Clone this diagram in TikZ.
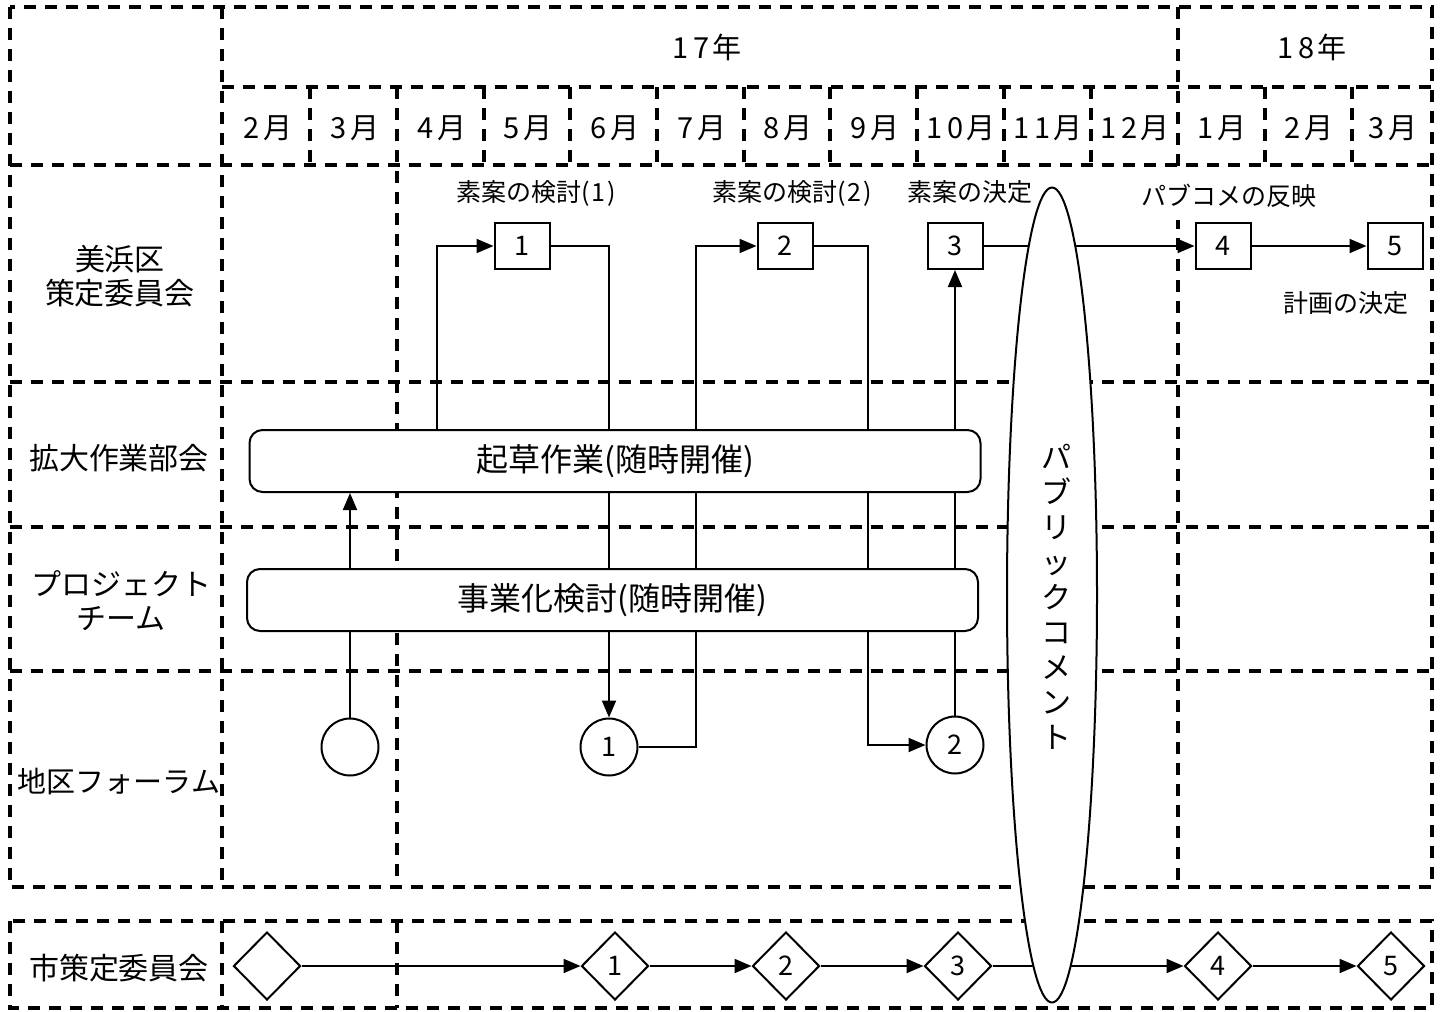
\documentclass[tikz,border=0pt]{standalone}
\usepackage{fontspec}
\setmainfont{Noto Sans CJK JP}
\usetikzlibrary{arrows.meta,shapes.geometric,backgrounds}
\begin{document}
\begin{tikzpicture}[x=1pt,y=-1pt,
  gridline/.style={line width=3.5pt,dash pattern=on 12pt off 9pt},
  arr/.style={line width=2pt,-{Triangle[length=17pt,width=14pt]}},
  lab/.style={font=\fontsize{30}{34}\selectfont,align=center,inner sep=0pt},
  mon/.style={font=\fontsize{29}{34}\selectfont,inner sep=0pt},
  note/.style={font=\fontsize{25}{30}\selectfont,inner sep=0pt},
  sq/.style={draw,line width=2pt,fill=white,minimum width=55pt,minimum height=46pt,inner sep=0pt,font=\fontsize{27}{30}\selectfont},
  circ/.style={circle,draw,line width=2pt,fill=white,minimum size=57pt,inner sep=0pt,font=\fontsize{27}{30}\selectfont},
  dia/.style={diamond,draw,line width=2pt,fill=white,minimum width=67pt,minimum height=68pt,inner sep=0pt,font=\fontsize{27}{30}\selectfont},
  band/.style={draw,line width=2pt,fill=white,rounded corners=13pt,minimum height=62pt,minimum width=731pt,inner sep=0pt,font=\fontsize{32}{36}\selectfont},
]
\useasboundingbox (0,0) rectangle (1449,1012);

% lane labels
\node[lab] (lMi) at (120,276) {美浜区\\策定委員会};
\node[lab] (lKa) at (119,458) {拡大作業部会};
\node[lab] (lPr) at (121,601) {プロジェクト\\チーム};
\node[lab,font=\fontsize{29}{34}\selectfont] (lCh) at (119,781) {地区フォーラム};
\node[lab] (lSh) at (119,968) {市策定委員会};

% years
\node[mon] (y17) at (707,47) {1\kern5pt 7\kern3pt 年};
\node[mon] (y18) at (1312,47) {1\kern5pt 8\kern3pt 年};

% months
\node[mon] (m2)  at (268,128) {2\kern3pt 月};
\node[mon] (m3)  at (355,128) {3\kern3pt 月};
\node[mon] (m4)  at (442,128) {4\kern3pt 月};
\node[mon] (m5)  at (528,128) {5\kern3pt 月};
\node[mon] (m6)  at (615,128) {6\kern3pt 月};
\node[mon] (m7)  at (702,128) {7\kern3pt 月};
\node[mon] (m8)  at (788,128) {8\kern3pt 月};
\node[mon] (m9)  at (875,128) {9\kern3pt 月};
\node[mon] (m10) at (961,128) {1\kern5pt 0\kern2pt 月};
\node[mon] (m11) at (1048,128) {1\kern5pt 1\kern2pt 月};
\node[mon] (m12) at (1135,128) {1\kern5pt 2\kern2pt 月};
\node[mon] (n1m) at (1222,128) {1\kern3pt 月};
\node[mon] (n2m) at (1309,128) {2\kern3pt 月};
\node[mon] (n3m) at (1393,128) {3\kern3pt 月};

% committee boxes
\node[sq] (b1) at (522,246) {1};
\node[sq] (b2) at (785,246) {2};
\node[sq] (b3) at (955,246) {3};
\node[sq] (b4) at (1223,246) {4};
\node[sq] (b5) at (1395,246) {5};

\node[note] (t1) at (536,193) {素案の検討(\kern2pt 1\kern2pt )};
\node[note] (t2) at (792,193) {素案の検討(\kern2pt 2\kern2pt )};
\node[note] (t5) at (1346,303) {計画の決定};
\node[note,fill=white,inner ysep=12pt] (t4) at (1229,196) {パブコメの反映};

% bands
\node[band] (kiso) at (615,461) {起草作業(随時開催)};
\node[band] (jigyo) at (612.5,600) {事業化検討(随時開催)};

% forum circles
\node[circ] (f0) at (350,747) {};
\node[circ] (f1) at (609,747) {1};
\node[circ] (f2) at (955,745) {2};

% city committee diamonds
\node[dia] (d0) at (267,966) {};
\node[dia] (d1) at (615,966) {1};
\node[dia] (d2) at (786,966) {2};
\node[dia] (d3) at (958,966) {3};
\node[dia] (d4) at (1218,966) {4};
\node[dia] (d5) at (1391,966) {5};

% public comment ellipse
\node[ellipse,draw,line width=2pt,fill=white,minimum width=90pt,minimum height=815pt,inner sep=0pt] (pc) at (1052,595) {};
\node[font=\fontsize{30}{35}\selectfont,align=center,inner sep=0pt] (pct) at (1056,597) {パ\\ブ\\リ\\ッ\\ク\\コ\\メ\\ン\\ト};
\node[note] (t3) at (970,192) {素案の決定};

\begin{scope}[on background layer]
  % grid
  \draw[gridline] (10,7) rectangle (1432,887);
  \draw[gridline] (222,7) -- (222,887);
  \draw[gridline] (222,87) -- (1432,87);
  \foreach \y in {165,382,527,671} \draw[gridline] (10,\y) -- (1432,\y);
  \foreach \x in {310,484,570,657,744,830,917,1004,1091,1265,1352} \draw[gridline] (\x,87) -- (\x,165);
  \draw[gridline] (397,87) -- (397,887);
  \draw[gridline] (1178,7) -- (1178,887);
  \draw[gridline] (10,921) rectangle (1432,1008);
  \draw[gridline] (222,921) -- (222,1008);
  \draw[gridline] (397,921) -- (397,1008);

  % connectors
  \coordinate (k1) at (437,0);
  \coordinate (k2) at (696,0);
  \coordinate (k3) at (868,0);
  \draw[arr] (k1 |- kiso.north) -- (k1 |- b1.west) -- (b1.west);
  \draw[arr] (b1.east) -| (f1.north);
  \draw[arr] (f1.east) -| (k2 |- b2.west) -- (b2.west);
  \draw[arr] (b2.east) -| (k3 |- f2.west) -- (f2.west);
  \draw[arr] (f2.north) -- (b3.south);
  \draw[arr] (b3.east) -- (b4.west);
  \draw[arr] (b4.east) -- (b5.west);
  \draw[arr] (f0.north) -- (f0.north |- kiso.south);
  \draw[arr] (d0.east) -- (d1.west);
  \draw[arr] (d1.east) -- (d2.west);
  \draw[arr] (d2.east) -- (d3.west);
  \draw[arr] (d3.east) -- (d4.west);
  \draw[arr] (d4.east) -- (d5.west);
\end{scope}
\end{tikzpicture}
\end{document}
